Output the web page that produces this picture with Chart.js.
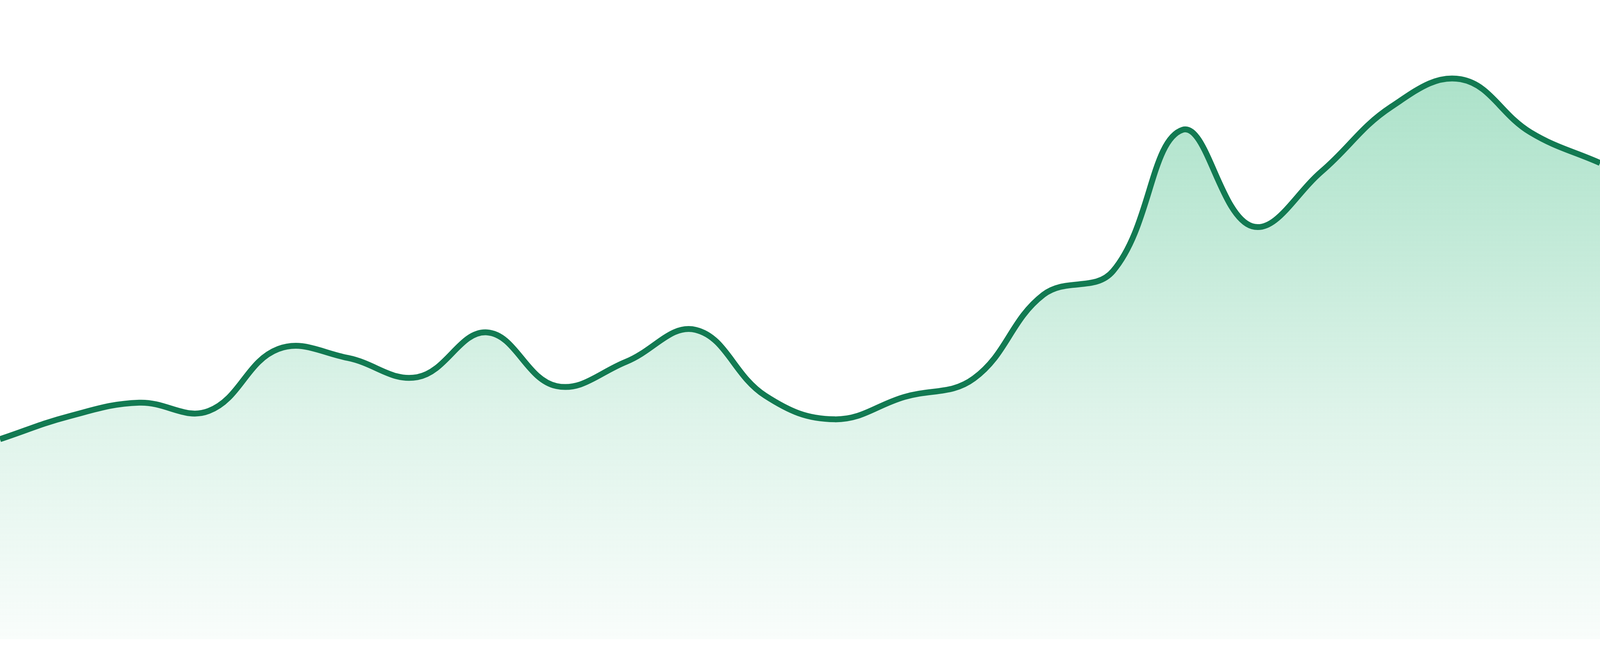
<!DOCTYPE html>
<html>
<head>
<meta charset="utf-8">
<script src="https://cdn.jsdelivr.net/npm/chart.js@4.4.1/dist/chart.umd.min.js"></script>
<style>
  html, body { margin: 0; padding: 0; background: #ffffff; overflow: hidden; }
  #wrap { width: 100vw; height: 100vh; position: relative; }
</style>
</head>
<body>
<div id="wrap"><canvas id="myChart"></canvas></div>
<script>
// one point per period, hidden x axis
const periods = ["1","2","3","4","5","6","7","8","9","10","11","12",
                 "13","14","15","16","17","18","19","20","21","22","23","24"];
const values = [31.3, 34.9, 37.0, 35.7, 45.4, 44.0, 41.0, 48.0, 39.6, 43.4, 48.4, 38.1,
                34.4, 37.9, 40.8, 53.9, 57.6, 79.7, 64.6, 73.2, 83.3, 87.6, 79.3, 74.5];
const yMin = 0;
const yMax = 100;

var ctx = document.getElementById("myChart");
var wrap = document.getElementById("wrap");
var bottomPad = Math.round(wrap.clientHeight * 43 / 1680);

// green fade from the top of the plot area down to almost white
var areaFill = (context) => {
  const chart = context.chart;
  const area = chart.chartArea;
  if (!area) return "rgba(52,184,124,0.2)";
  const g = chart.ctx.createLinearGradient(0, area.top, 0, area.bottom);
  g.addColorStop(0, "rgba(52,184,124,0.46)");
  g.addColorStop(0.35, "rgba(52,184,124,0.31)");
  g.addColorStop(0.65, "rgba(52,184,124,0.16)");
  g.addColorStop(1, "rgba(52,184,124,0.03)");
  return g;
};

var myChart = new Chart(ctx, {
  type: "line",
  data: {
    labels: periods,
    datasets: [
      {
        data: values,
        borderColor: "#127a52",
        borderWidth: Math.max(2, Math.round(wrap.clientHeight * 15 / 1680)),
        backgroundColor: areaFill,
        fill: "start",
        tension: 0.4,
        pointRadius: 0,
        pointHoverRadius: 0,
      },
    ],
  },
  options: {
    responsive: true,
    maintainAspectRatio: false,
    animation: false,
    layout: { padding: { top: 0, left: 0, right: 0, bottom: bottomPad } },
    plugins: {
      legend: { display: false },
      tooltip: { enabled: false },
    },
    scales: {
      x: { display: false, offset: false },
      y: { display: false, min: yMin, max: yMax },
    },
  },
});
</script>
</body>
</html>
